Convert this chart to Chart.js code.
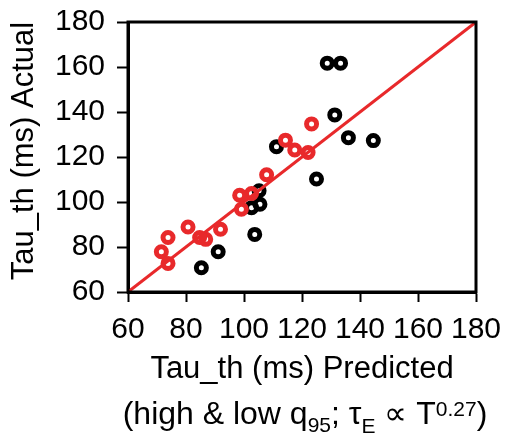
<!DOCTYPE html>
<html>
<head>
<meta charset="utf-8">
<script src="https://cdn.jsdelivr.net/npm/chart.js@4.4.1/dist/chart.umd.min.js"></script>
<style>
  html, body { margin: 0; padding: 0; background: #fff; }
  #wrap { width: 508px; height: 433px; }
</style>
</head>
<body>
<div id="wrap"><canvas id="tauChart" width="508" height="433"></canvas></div>
<script>
// predicted vs actual confinement time, two q95 groups
const blackX = [128.7, 133.3, 131.3, 136.0, 144.6, 111.2, 125.0, 105.2, 105.5, 102.6, 103.7, 91.1, 85.3];
const blackY = [161.7, 161.7, 138.7, 128.6, 127.3, 124.6, 110.2, 105.0, 99.0, 97.5, 85.6, 77.9, 70.8];
const redX = [123.3, 114.3, 117.5, 122.1, 107.8, 102.6, 98.5, 99.1, 91.9, 80.7, 86.8, 84.7, 73.8, 71.5, 73.8];
const redY = [134.7, 127.5, 123.1, 122.0, 112.1, 103.8, 103.0, 96.8, 87.9, 88.9, 83.4, 84.2, 84.2, 77.9, 72.7];
const unityLine = [60, 180];
const axisTicks = [60, 80, 100, 120, 140, 160, 180];

const RED = '#e8292b';
const FONT = "'Liberation Sans', Arial, sans-serif";

const toPoints = (xs, ys) => xs.map((x, i) => ({x: x, y: ys[i]}));

// frame around the plot and the hand-placed axis titles
const decorations = {
    id: 'decorations',
    afterDraw(chart) {
        const ctx = chart.ctx;
        const a = chart.chartArea;
        ctx.save();
        ctx.strokeStyle = '#000';
        ctx.lineWidth = 3;
        ctx.strokeRect(a.left, a.top, a.right - a.left, a.bottom - a.top);

        ctx.fillStyle = '#000';
        ctx.textAlign = 'center';
        ctx.textBaseline = 'alphabetic';
        ctx.font = '31px ' + FONT;
        ctx.fillText('Tau_th (ms) Predicted', 302, 378);

        ctx.save();
        ctx.translate(33, 151);
        ctx.rotate(-Math.PI / 2);
        ctx.fillText('Tau_th (ms) Actual', 0, 0);
        ctx.restore();

        // subtitle with sub/superscripts
        const parts = [
            {t: '(high & low q', s: 32, dy: 0},
            {t: '95', s: 21, dy: 8},
            {t: '; \u03C4', s: 32, dy: 0},
            {t: 'E', s: 21, dy: 9},
            {t: ' \u221D T', s: 32, dy: 0},
            {t: '0.27', s: 21, dy: -8},
            {t: ')', s: 32, dy: 0}
        ];
        let total = 0;
        parts.forEach(p => { ctx.font = p.s + 'px ' + FONT; p.w = ctx.measureText(p.t).width; total += p.w; });
        let x = 305 - total / 2;
        const base = 424;
        ctx.textAlign = 'left';
        parts.forEach(p => {
            ctx.font = p.s + 'px ' + FONT;
            ctx.fillText(p.t, x, base + p.dy);
            x += p.w;
        });
        ctx.restore();
    }
};

const ctxTau = document.querySelector('#tauChart').getContext('2d');
const chartTau = new Chart(ctxTau, {
    type: 'scatter',
    data: {
        datasets: [{
            label: 'high q95',
            data: toPoints(redX, redY),
            borderColor: RED,
            backgroundColor: 'rgba(0,0,0,0)',
            pointRadius: 5,
            pointBorderWidth: 5,
            order: 1
        }, {
            type: 'line',
            label: 'unity',
            data: toPoints(unityLine, unityLine),
            borderColor: RED,
            borderWidth: 3,
            pointRadius: 0,
            order: 2
        }, {
            label: 'low q95',
            data: toPoints(blackX, blackY),
            borderColor: '#000',
            backgroundColor: 'rgba(0,0,0,0)',
            pointRadius: 5,
            pointBorderWidth: 5,
            order: 3
        }]
    },
    options: {
        responsive: false,
        animation: false,
        plugins: {
            legend: { display: false },
            tooltip: { enabled: false }
        },
        layout: {
            padding: { top: 22, right: 32, bottom: 0, left: 0 }
        },
        scales: {
            x: {
                type: 'linear',
                min: 60,
                max: 180,
                afterBuildTicks: (s) => { s.ticks = axisTicks.map(v => ({value: v})); },
                afterFit: (s) => { s.height = 141; s.paddingLeft = 0; s.paddingRight = 0; },
                ticks: { color: '#000', font: { size: 30, family: FONT }, padding: 10, maxRotation: 0, autoSkip: false },
                grid: { drawOnChartArea: false, drawTicks: true, tickLength: 10, tickWidth: 2, color: '#000' },
                border: { display: true, width: 3, color: '#000' }
            },
            y: {
                type: 'linear',
                min: 60,
                max: 180,
                afterBuildTicks: (s) => { s.ticks = axisTicks.map(v => ({value: v})); },
                afterFit: (s) => { s.width = 128; s.paddingTop = 0; s.paddingBottom = 0; },
                ticks: { color: '#000', font: { size: 30, family: FONT }, padding: 12, autoSkip: false },
                grid: { drawOnChartArea: false, drawTicks: true, tickLength: 11, tickWidth: 2, color: '#000' },
                border: { display: true, width: 3, color: '#000' }
            }
        }
    },
    plugins: [decorations]
});
</script>
</body>
</html>
